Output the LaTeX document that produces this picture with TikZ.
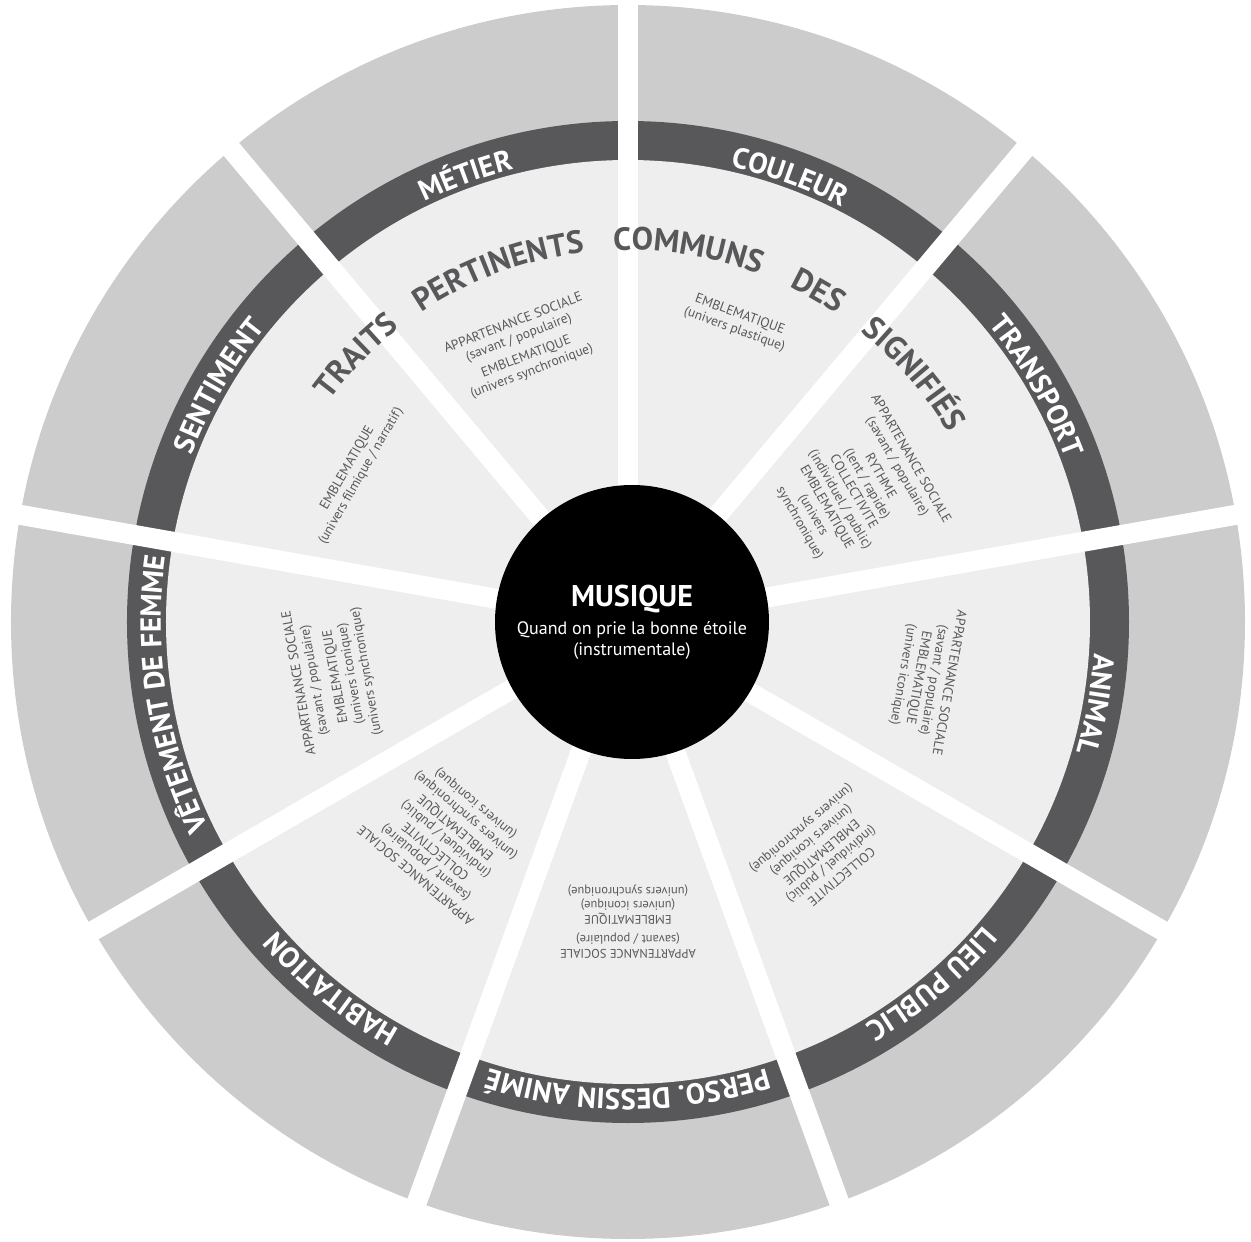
\documentclass[tikz,border=0pt]{standalone}
\usepackage{fontspec}
\setmainfont{PT Sans}
\usetikzlibrary{decorations.text}
\definecolor{outergray}{HTML}{CCCCCC}
\definecolor{bandgray}{HTML}{58585A}
\definecolor{innergray}{HTML}{EFEEEF}
\newcommand\bandfont{\fontsize{29}{29}\selectfont\bfseries}
\newcommand\bigwordfont{\fontsize{32}{32}\selectfont\bfseries}
\newcommand\arclabel[4]{%
  \path[decorate, decoration={text along path, text align=center, text={|#3|#4}}]
    (#1+60:#2) arc[start angle=#1+60, end angle=#1-60, radius=#2];}
\begin{document}
\begin{tikzpicture}[x=1pt,y=1pt,
  gapline/.style={white, line width=20pt},
  smalltext/.style={text=bandgray, align=center, font=\fontsize{13.5}{15.5}\selectfont, inner sep=0pt},
  centertext/.style={text=white, inner sep=0pt}]
\useasboundingbox (-628,-620) rectangle (623,622);
% rings
\fill[outergray] (0,0) circle[radius=617pt];
\fill[bandgray] (0,0) circle[radius=501pt];
\fill[innergray] (0,0) circle[radius=462pt];
% gaps between sectors
\foreach \a in {90,50,10,-30,-70,-110,-150,170,130}
  \draw[gapline] (0,0) -- (\a:640pt);
% centre disc
\fill[black] (4,0) circle[radius=137pt];
\node[centertext, font=\fontsize{30}{30}\selectfont\bfseries] (mus) at (4,23) {MUSIQUE};
\node[centertext, font=\fontsize{18}{18}\selectfont] (quand) at (4,-8) {Quand on prie la bonne étoile};
\node[centertext, font=\fontsize{18}{18}\selectfont] (instr) at (4,-29) {(instrumentale)};
% band labels
\arclabel{110}{467pt}{\color{white}\bandfont}{MÉTIER}
\arclabel{70}{467pt}{\color{white}\bandfont}{COULEUR}
\arclabel{30}{467pt}{\color{white}\bandfont}{TRANSPORT}
\arclabel{-10}{467pt}{\color{white}\bandfont}{ANIMAL}
\arclabel{-50}{467pt}{\color{white}\bandfont}{LIEU PUBLIC}
\arclabel{-90}{467pt}{\color{white}\bandfont}{PERSO. DESSIN ANIMÉ}
\arclabel{-129}{467pt}{\color{white}\bandfont}{HABITATION}
\arclabel{189}{467pt}{\color{white}\bandfont}{VÊTEMENT DE FEMME}
\arclabel{150}{467pt}{\color{white}\bandfont}{SENTIMENT}
% big words
\arclabel{135.6}{372pt}{\color{bandgray}\bigwordfont}{TRAITS}
\arclabel{110.2}{372pt}{\color{bandgray}\bigwordfont}{PERTINENTS}
\arclabel{80.8}{372pt}{\color{bandgray}\bigwordfont}{COMMUNS}
\arclabel{60.1}{372pt}{\color{bandgray}\bigwordfont}{DES}
\arclabel{40.9}{372pt}{\color{bandgray}\bigwordfont}{SIGNIFIÉS}
% small texts
\node[smalltext, rotate=21] (tmetier) at (111:294pt) {APPARTENANCE SOCIALE\\(savant / populaire)\\[5pt]EMBLEMATIQUE\\(univers synchronique)};
\node[smalltext, rotate=-20] (tcouleur) at (70:319pt) {EMBLEMATIQUE\\(univers plastique)};
\node[smalltext, rotate=-60] (ttransport) at (30:262pt) {APPARTENANCE SOCIALE\\(savant / populaire)\\[4pt]RYTHME\\(lent / rapide)\\COLLECTIVITE\\(individuel / public)\\EMBLEMATIQUE\\(univers\\synchronique)};
\node[smalltext, rotate=-100] (tanimal) at (-10.8:303pt) {APPARTENANCE SOCIALE\\(savant / populaire)\\EMBLEMATIQUE\\(univers iconique)};
\node[smalltext, rotate=-140] (tlieu) at (-50:300pt) {COLLECTIVITE\\(individuel / public)\\EMBLEMATIQUE\\(univers iconique)\\(univers synchronique)};
\node[smalltext, rotate=180, font=\fontsize{12.5}{14}\selectfont] (tperso) at (-90:300pt) {APPARTENANCE SOCIALE\\(savant / populaire)\\[6pt]EMBLEMATIQUE\\(univers iconique)\\(univers synchronique)};
\node[smalltext, rotate=140] (thabitation) at (-130:283pt) {APPARTENANCE SOCIALE\\(savant / populaire)\\COLLECTIVITE\\(individuel / public)\\EMBLEMATIQUE\\(univers synchronique)\\(univers iconique)};
\node[smalltext, rotate=100] (tvetement) at (190.6:300pt) {APPARTENANCE SOCIALE\\(savant / populaire)\\[6pt]EMBLEMATIQUE\\(univers iconique)\\(univers synchronique)};
\node[smalltext, rotate=60] (tsentiment) at (151.3:312pt) {EMBLEMATIQUE\\(univers filmique / narratif)};
\end{tikzpicture}
\end{document}
